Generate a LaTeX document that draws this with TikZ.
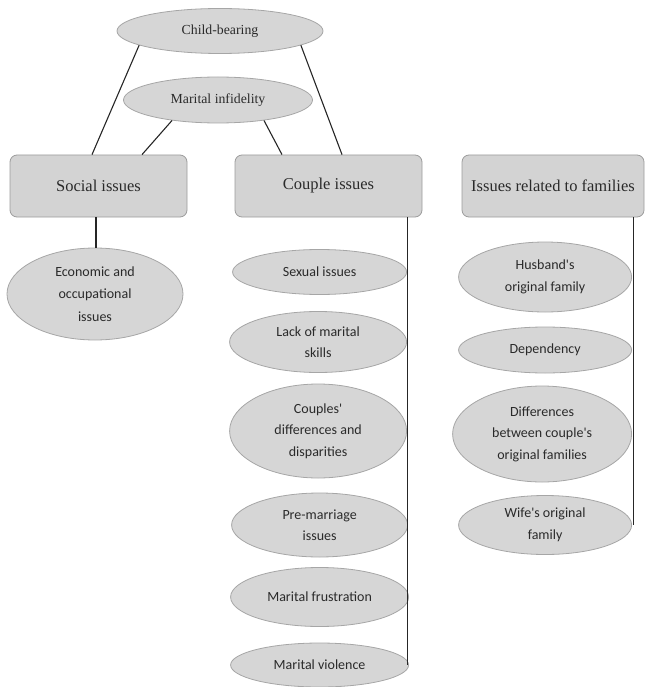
\documentclass[tikz,border=0pt]{standalone}
\usepackage{fontspec}
\setmainfont{Liberation Serif}
\newfontfamily\calib{Carlito}
\usetikzlibrary{shapes.geometric,calc}
\definecolor{boxfill}{HTML}{D3D3D3}
\definecolor{boxline}{HTML}{9C9C9C}
\definecolor{ellfill}{HTML}{D6D6D6}
\definecolor{ellline}{HTML}{A6A6A6}
\definecolor{txt}{HTML}{2A2A2A}
\tikzset{
  catbox/.style={draw=boxline, fill=boxfill, rounded corners=7pt, line width=0.8pt,
    minimum width=#1, minimum height=62pt, inner sep=0pt,
    font=\fontsize{16.5}{18}\selectfont, text=txt},
  topell/.style={ellipse, draw=ellline, fill=ellfill, line width=0.8pt, inner sep=0pt,
    font=\fontsize{13.8}{15}\selectfont, text=txt},
  subell/.style={ellipse, draw=ellline, fill=ellfill, line width=0.8pt, inner sep=0pt,
    align=center, font=\calib\fontsize{14}{21.5}\selectfont, text=txt},
  conn/.style={draw=black!85, line width=1.1pt}
}
\begin{document}
\begin{tikzpicture}[x=1pt,y=-1pt]
\useasboundingbox (0,0) rectangle (645,687);
% top ellipses
\node[topell, minimum width=206pt, minimum height=45pt] (cb) at (220,31) {Child-bearing};
\node[topell, minimum width=189pt, minimum height=46pt] (mi) at (218,100) {Marital infidelity};
% category boxes
\node[catbox=177pt] (soc) at (98.5,186) {Social issues};
\node[catbox=187pt] (cpl) at (328.5,186) {Couple issues};
\node[catbox=182pt] (fam) at (553,186) {Issues related to families};
% connectors top
\draw[conn] (cb.190) -- ([xshift=-6.5pt]soc.north);
\draw[conn] (cb.-10) -- ([xshift=13.5pt]cpl.north);
\draw[conn] (mi.204) -- ([xshift=43.5pt]soc.north);
\draw[conn] (mi.-24) -- ([xshift=-46.5pt]cpl.north);
% social
\node[subell, minimum width=176pt, minimum height=92pt] (eco) at (95,294) {Economic and\\[1pt]occupational\\[1pt]issues};
\draw[conn] ([xshift=-2.5pt]soc.south) -- ([xshift=1pt]eco.north);
% couple
\node[subell, anchor=east, minimum width=174pt, minimum height=45pt] (sex) at (407,272) {Sexual issues};
\node[subell, anchor=east, minimum width=177pt, minimum height=61pt] (lack) at (407,342) {Lack of marital\\skills};
\node[subell, anchor=east, minimum width=177pt, minimum height=94pt] (diff) at (407,431) {Couples'\\differences and\\disparities};
\node[subell, anchor=east, minimum width=176pt, minimum height=64pt] (pre) at (408,525) {Pre-marriage\\issues};
\node[subell, anchor=east, minimum width=178pt, minimum height=59pt] (frus) at (409,597) {Marital frustration};
\node[subell, anchor=east, minimum width=178pt, minimum height=44pt] (viol) at (409,665) {Marital violence};
\coordinate (ctop) at ([xshift=-15pt]cpl.south east);
\draw[conn] (ctop) -- (ctop |- viol.east);
% families
\node[subell, anchor=east, minimum width=173pt, minimum height=70pt] (hus) at (632,277) {Husband's\\original family};
\node[subell, anchor=east, minimum width=173pt, minimum height=46pt] (dep) at (632,350) {Dependency};
\node[subell, anchor=east, minimum width=179pt, minimum height=96pt] (fdif) at (632,434) {Differences\\between couple's\\original families};
\node[subell, anchor=east, minimum width=173pt, minimum height=59pt] (wife) at (632,525) {Wife's original\\family};
\coordinate (ftop) at ([xshift=-11pt]fam.south east);
\draw[conn] (ftop) -- (ftop |- wife.east);
\end{tikzpicture}
\end{document}
